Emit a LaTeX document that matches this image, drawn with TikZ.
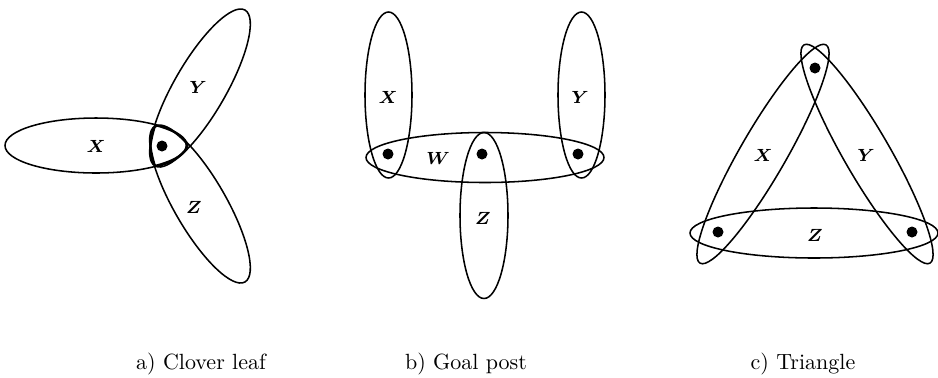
\documentclass[tikz,border=0pt]{standalone}
\usetikzlibrary{positioning,calc}

\begin{document}
\begin{tikzpicture}
		[x=0.4545pt, y=-0.4545pt,
		 hedge/.style={line width=0.7pt},
		 core/.style={line width=1.4pt},
		 vtx/.style={circle, fill, inner sep=0pt, minimum size=5pt},
		 lbl/.style={font=\footnotesize\boldmath},
		 caption/.style={anchor=base},
		 leafY/.style={rotate around={60:(200,88)}},
		 leafZ/.style={rotate around={-60:(200,204)}}]
		\useasboundingbox (0,0) rectangle (938,377);

		% a) clover leaf
		\draw[hedge] (96,145.5) ellipse [x radius=91, y radius=27.5];
		\draw[hedge, leafY] (200,88) ellipse [x radius=90, y radius=26];
		\draw[hedge, leafZ] (200,204) ellipse [x radius=90, y radius=26];
		\begin{scope}
			\clip[leafY] (200,88) ellipse [x radius=90, y radius=26];
			\clip[leafZ] (200,204) ellipse [x radius=90, y radius=26];
			\draw[core] (96,145.5) ellipse [x radius=91, y radius=27.5];
		\end{scope}
		\begin{scope}
			\clip (96,145.5) ellipse [x radius=91, y radius=27.5];
			\clip[leafZ] (200,204) ellipse [x radius=90, y radius=26];
			\draw[core, leafY] (200,88) ellipse [x radius=90, y radius=26];
		\end{scope}
		\begin{scope}
			\clip (96,145.5) ellipse [x radius=91, y radius=27.5];
			\clip[leafY] (200,88) ellipse [x radius=90, y radius=26];
			\draw[core, leafZ] (200,204) ellipse [x radius=90, y radius=26];
		\end{scope}
		\node[vtx] (a1) at (162,146) {};
		\node[lbl] (aX) at (96,146) {$X$};
		\node[lbl] (aY) at (198,87) {$Y$};
		\node[lbl] (aZ) at (194,207) {$Z$};
		\node[caption] (capA) at (201,369) {a) Clover leaf};

		% b) goal post
		\draw[hedge] (388.5,95) ellipse [x radius=23.5, y radius=83];
		\draw[hedge] (581.5,95) ellipse [x radius=23.5, y radius=83];
		\draw[hedge] (485,157.5) ellipse [x radius=119, y radius=25];
		\draw[hedge] (484,215.5) ellipse [x radius=24, y radius=83];
		\node[vtx] (b1) at (388,154) {};
		\node[vtx] (b2) at (482,154) {};
		\node[vtx] (b3) at (578,154) {};
		\node[lbl] (bX) at (388,97) {$X$};
		\node[lbl] (bY) at (580,97) {$Y$};
		\node[lbl] (bW) at (438,158) {$W$};
		\node[lbl] (bZ) at (483,218) {$Z$};
		\node[caption] (capB) at (466,369) {b) Goal post};

		% c) triangle
		\draw[hedge] (814,233) ellipse [x radius=124, y radius=25];
		\draw[hedge, rotate around={60:(763,154)}] (763,154) ellipse [x radius=126, y radius=23];
		\draw[hedge, rotate around={120:(867,154)}] (867,154) ellipse [x radius=126, y radius=23];
		\node[vtx] (c1) at (815,68) {};
		\node[vtx] (c2) at (718,232) {};
		\node[vtx] (c3) at (912,232) {};
		\node[lbl] (cX) at (763,155) {$X$};
		\node[lbl] (cY) at (866,155) {$Y$};
		\node[lbl] (cZ) at (815,235) {$Z$};
		\node[caption] (capC) at (803,369) {c) Triangle};
	\end{tikzpicture}
\end{document}
